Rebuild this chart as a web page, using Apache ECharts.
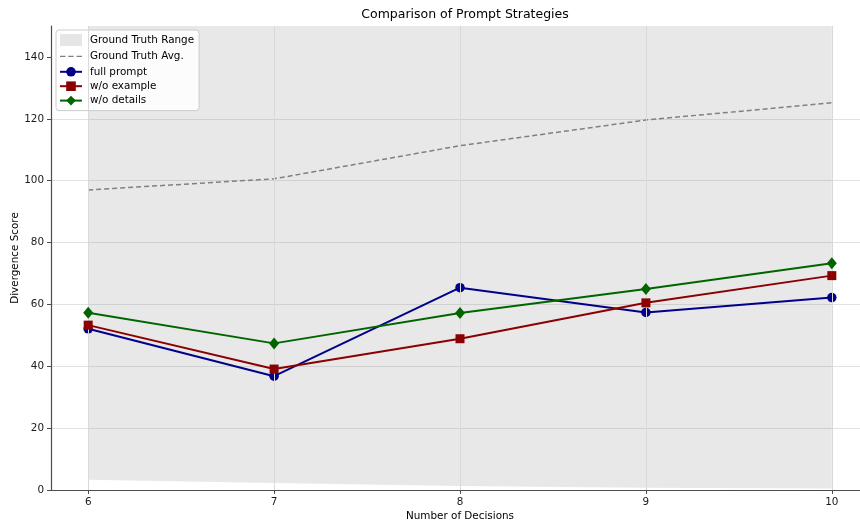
<!DOCTYPE html>
<html>
<head>
<meta charset="utf-8">
<script src="https://cdn.jsdelivr.net/npm/echarts@6/dist/echarts.min.js"></script>
<style>
  html, body { margin: 0; padding: 0; background: #fff; }
  #chart { width: 860px; height: 521px; }
</style>
</head>
<body>
<div id="chart"></div>
<script>
// Number of decisions on the x axis
const decisions = [6, 7, 8, 9, 10];
const yTicks = [0, 20, 40, 60, 80, 100, 120, 140];

// Ground truth band and average
const gtLower = [3.3, 2.3, 1.3, 0.7, 0.5];
const gtUpper = [175, 180, 190, 200, 210];
const gtAvg = [97.0, 100.6, 111.3, 119.6, 125.2];

// Prompt strategy scores
const fullPrompt = [52.1, 36.8, 65.4, 57.4, 62.2];
const woExample = [53.3, 39.1, 48.9, 60.5, 69.3];
const woDetails = [57.3, 47.4, 57.2, 65.0, 73.3];

const pairs = ys => decisions.map((x, i) => [x, ys[i]]);
const font = 'DejaVu Sans';
const fs = 10.4;

// Three short dashes for the average line's legend key (corner dots keep the box full size)
const dashIcon = 'path://M0,0h0.01v0.01h-0.01z M21.99,11.99h0.01v0.01h-0.01z ' +
  'M0,5.3h5.5v1.4h-5.5z M8.2,5.3h5.5v1.4h-5.5z M16.5,5.3h5.5v1.4h-5.5z';

const chart = echarts.init(document.getElementById('chart'), null, { renderer: 'canvas' });

chart.setOption({
  animation: false,
  backgroundColor: '#ffffff',
  textStyle: { fontFamily: font },
  title: {
    text: 'Comparison of Prompt Strategies',
    left: 460, top: 3, textAlign: 'center',
    textStyle: { fontFamily: font, fontSize: 12.5, fontWeight: 'normal', color: '#000' }
  },
  grid: { left: 51, top: 26, width: 818, height: 464, containLabel: false, outerBoundsMode: 'none' },
  legend: {
    left: 56, top: 30, orient: 'vertical',
    itemWidth: 22, itemHeight: 12, itemGap: 4.4,
    padding: [4, 5, 5, 3],
    backgroundColor: 'rgba(255,255,255,0.85)',
    borderColor: '#cccccc', borderWidth: 1, borderRadius: 3,
    textStyle: { fontFamily: font, fontSize: fs, color: '#000', padding: [0, 0, 0, 3] },
    data: [
      { name: 'Ground Truth Range', icon: 'rect', itemStyle: { color: '#e6e6e6' } },
      { name: 'Ground Truth Avg.', icon: dashIcon, itemStyle: { color: '#808080' } },
      { name: 'full prompt' },
      { name: 'w/o example' },
      { name: 'w/o details' }
    ]
  },
  xAxis: {
    type: 'value', min: 5.8, max: 10.2,
    name: 'Number of Decisions', nameLocation: 'middle', nameGap: 21,
    nameMoveOverlap: false,
    nameTextStyle: { fontFamily: font, fontSize: fs, color: '#000' },
    axisLine: { show: true, lineStyle: { color: '#4d4d4d', width: 1.2 } },
    axisTick: { show: true, length: 4, customValues: decisions, lineStyle: { color: '#4d4d4d' } },
    axisLabel: { customValues: decisions, fontFamily: font, fontSize: fs, color: '#1a1a1a', margin: 7 },
    splitLine: { show: false }
  },
  yAxis: {
    type: 'value', min: 0, max: 150,
    name: 'Divergence Score', nameLocation: 'middle', nameGap: 31,
    nameMoveOverlap: false,
    nameTextStyle: { fontFamily: font, fontSize: fs, color: '#000' },
    axisLine: { show: true, lineStyle: { color: '#4d4d4d', width: 1.2 } },
    axisTick: { show: true, length: 4, customValues: yTicks, lineStyle: { color: '#4d4d4d' } },
    axisLabel: { customValues: yTicks, fontFamily: font, fontSize: fs, color: '#1a1a1a', margin: 7 },
    splitLine: { show: true, showMaxLine: false, lineStyle: { color: '#e2e2e2', width: 1 } }
  },
  series: [
    {
      // Shaded band between the lower and upper ground-truth bounds
      name: 'Ground Truth Range', type: 'custom', clip: true, z: 1,
      itemStyle: { color: '#e6e6e6' },
      data: [0],
      renderItem: (params, api) => {
        const top = decisions.map((x, i) => api.coord([x, gtUpper[i]]));
        const bottom = decisions.map((x, i) => api.coord([x, gtLower[i]])).reverse();
        return {
          type: 'polygon',
          shape: { points: top.concat(bottom) },
          style: { fill: 'rgba(128,128,128,0.18)' }
        };
      },
      markLine: {
        silent: true, symbol: 'none', label: { show: false },
        lineStyle: { color: '#d9d9d9', type: 'solid', width: 1 },
        data: decisions.map(x => ({ xAxis: x }))
      }
    },
    {
      name: 'Ground Truth Avg.', type: 'line', data: pairs(gtAvg),
      symbol: 'none', z: 3,
      itemStyle: { color: '#808080' },
      lineStyle: { color: '#808080', width: 1.5, type: [5, 3] }
    },
    {
      name: 'full prompt', type: 'line', data: pairs(fullPrompt), z: 4,
      symbol: 'circle', symbolSize: 9.5,
      itemStyle: { color: '#00008b', borderWidth: 0 }, lineStyle: { color: '#00008b', width: 2 }
    },
    {
      name: 'w/o example', type: 'line', data: pairs(woExample), z: 5,
      symbol: 'rect', symbolSize: 9,
      itemStyle: { color: '#8b0000', borderWidth: 0 }, lineStyle: { color: '#8b0000', width: 2 }
    },
    {
      name: 'w/o details', type: 'line', data: pairs(woDetails), z: 6,
      symbol: 'diamond', symbolSize: [10, 12],
      itemStyle: { color: '#006400', borderWidth: 0 }, lineStyle: { color: '#006400', width: 2 }
    }
  ]
});
</script>
</body>
</html>
